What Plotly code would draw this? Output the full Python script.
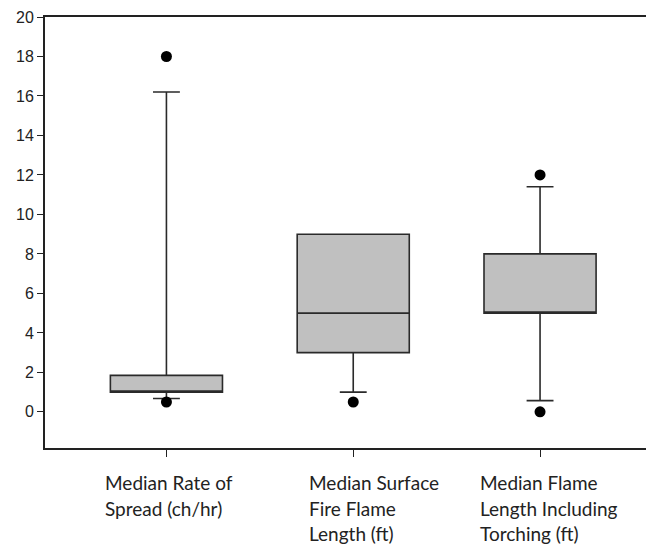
import plotly.graph_objects as go

categories = [0, 1, 2]
labels = [["Median Rate of", "Spread (ch/hr)"],
          ["Median Surface", "Fire Flame", "Length (ft)"],
          ["Median Flame", "Length Including", "Torching (ft)"]]
q1 = [1.0, 3.0, 5.0]
median = [1.0, 5.0, 5.0]
q3 = [1.85, 9.0, 8.0]
lowerfence = [0.68, 1.0, 0.57]
upperfence = [16.2, 9.0, 11.4]
outlier_x = [0, 0, 1, 2, 2]
outlier_y = [18.0, 0.5, 0.5, 12.0, 0.0]
y_ticks = [0, 2, 4, 6, 8, 10, 12, 14, 16, 18, 20]
label_shift = [-63, -46, -62]

fig = go.Figure()
fig.add_trace(go.Box(
    x=categories, q1=q1, median=median, q3=q3,
    lowerfence=lowerfence, upperfence=upperfence,
    width=0.6, whiskerwidth=0.24,
    fillcolor="#c0c0c0", line=dict(color="#2a2a2a", width=1.6),
    boxpoints=False, showlegend=False, hoverinfo="skip",
))
fig.add_trace(go.Scatter(
    x=outlier_x, y=outlier_y, mode="markers",
    marker=dict(color="black", size=11), showlegend=False,
))

for c, lines, sh in zip(categories, labels, label_shift):
    for i, line in enumerate(lines):
        fig.add_annotation(
            x=c, y=0, xref="x", yref="paper", text=line, showarrow=False,
            xanchor="left", yanchor="top", align="left",
            xshift=sh, yshift=-21 - 25.5 * i,
            font=dict(family="Lato, Open Sans, sans-serif", size=19, color="#222"),
        )

fig.update_layout(
    width=646, height=537,
    margin=dict(l=37, r=0, t=9, b=97),
    plot_bgcolor="white", paper_bgcolor="white",
    xaxis=dict(range=[-0.65, 2.61], tickvals=categories, ticktext=["", "", ""],
               showline=True, linecolor="#222", linewidth=1.8, mirror=True,
               ticks="outside", ticklen=7, tickcolor="#222", tickwidth=1.3,
               showgrid=False, zeroline=False),
    yaxis=dict(range=[-1.83, 20], tickvals=y_ticks,
               showline=True, linecolor="#222", linewidth=1.8, mirror=False,
               ticks="outside", ticklen=6, tickcolor="#222", tickwidth=1.3,
               showgrid=False, zeroline=False,
               tickfont=dict(family="Liberation Sans, Arial, sans-serif", size=16, color="#222")),
)

fig.write_html("out.html")
